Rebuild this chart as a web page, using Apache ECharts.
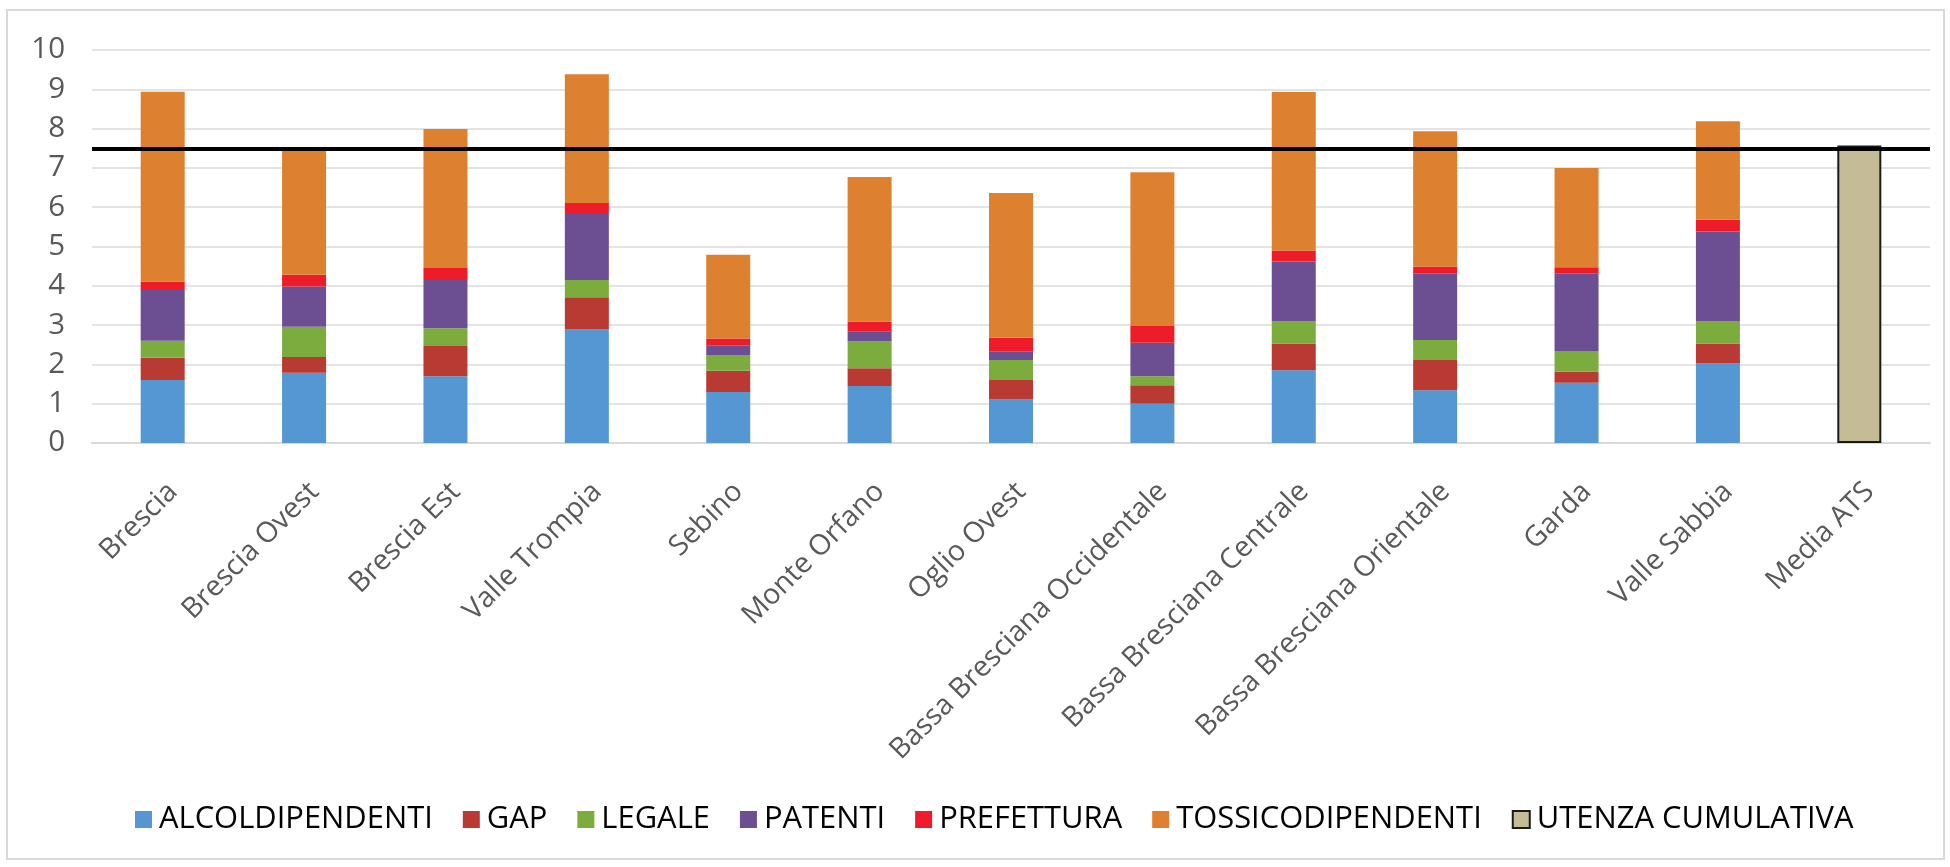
<!DOCTYPE html>
<html>
<head>
<meta charset="utf-8">
<script src="https://cdn.jsdelivr.net/npm/echarts@6/dist/echarts.min.js"></script>
<style>
html,body{margin:0;padding:0;background:#fff;}
#chart{width:1950px;height:867px;}
</style>
</head>
<body>
<div id="chart"></div>
<script>
const categories = ['Brescia','Brescia Ovest','Brescia Est','Valle Trompia','Sebino','Monte Orfano','Oglio Ovest','Bassa Bresciana Occidentale','Bassa Bresciana Centrale','Bassa Bresciana Orientale','Garda','Valle Sabbia','Media ATS'];
const alcoldipendenti = [1.60,1.79,1.70,2.89,1.30,1.45,1.11,1.00,1.85,1.34,1.53,2.02,null];
const gap = [0.57,0.40,0.77,0.82,0.54,0.45,0.49,0.47,0.68,0.77,0.28,0.51,null];
const legale = [0.43,0.77,0.45,0.44,0.40,0.68,0.51,0.23,0.56,0.51,0.53,0.56,null];
const patenti = [1.29,1.02,1.23,1.68,0.25,0.25,0.21,0.85,1.53,1.70,1.98,2.29,null];
const prefettura = [0.22,0.30,0.30,0.28,0.17,0.26,0.36,0.43,0.28,0.17,0.15,0.30,null];
const tossicodipendenti = [4.83,3.17,3.54,3.27,2.13,3.68,3.68,3.91,4.03,3.44,2.53,2.51,null];
const utenzaCumulativa = [null,null,null,null,null,null,null,null,null,null,null,null,7.57];
const mediaATS = 7.48;
const yTicks = [0,1,2,3,4,5,6,7,8,9,10];

const FONT = 'Open Sans';
const chart = echarts.init(document.getElementById('chart'), null, {renderer:'canvas'});

function barSeries(name, data, color, extra) {
  return Object.assign({
    name: name,
    type: 'bar',
    stack: 'tot',
    data: data,
    barWidth: 44,
    itemStyle: {color: color},
    emphasis: {disabled: true}
  }, extra || {});
}

const option = {
  animation: false,
  backgroundColor: '#ffffff',
  graphic: [{
    type: 'rect',
    shape: {x: 7, y: 10, width: 1937, height: 849},
    style: {fill: 'none', stroke: '#d9d9d9', lineWidth: 2},
    silent: true
  }],
  grid: {left: 92, right: 20, top: 50, bottom: 424, containLabel: false},
  legend: {
    left: 130,
    top: 799,
    itemWidth: 17,
    itemHeight: 17,
    itemGap: 30,
    icon: 'rect',
    textStyle: {fontFamily: FONT, fontSize: 30.9, color: '#000000', padding: [0,0,0,2]},
    data: ['ALCOLDIPENDENTI','GAP','LEGALE','PATENTI','PREFETTURA','TOSSICODIPENDENTI','UTENZA CUMULATIVA']
  },
  xAxis: {
    type: 'category',
    data: categories,
    axisLine: {show: true, lineStyle: {color: '#d9d9d9', width: 2}},
    axisTick: {show: false},
    axisLabel: {
      rotate: 45,
      interval: 0,
      margin: 34,
      align: 'right',
      verticalAlign: 'top',
      fontFamily: FONT,
      fontSize: 28.5,
      color: '#595959'
    }
  },
  yAxis: {
    type: 'value',
    min: yTicks[0],
    max: yTicks[yTicks.length-1],
    interval: 1,
    axisLine: {show: false},
    axisTick: {show: false},
    splitLine: {lineStyle: {color: '#e4e4e4', width: 2}},
    axisLabel: {margin: 27, fontFamily: FONT, fontSize: 29.5, color: '#595959'}
  },
  series: [
    barSeries('ALCOLDIPENDENTI', alcoldipendenti, '#5597d3'),
    barSeries('GAP', gap, '#b83a33'),
    barSeries('LEGALE', legale, '#7cab3e'),
    barSeries('PATENTI', patenti, '#6c4f93'),
    barSeries('PREFETTURA', prefettura, '#ee1c28'),
    barSeries('TOSSICODIPENDENTI', tossicodipendenti, '#dd8130'),
    barSeries('UTENZA CUMULATIVA', utenzaCumulativa, '#c4bc96', {
      itemStyle: {color: '#c4bc96', borderColor: '#1a1a1a', borderWidth: 2},
      markLine: {
        silent: true,
        symbol: ['none','none'],
        label: {show: false},
        lineStyle: {color: '#000000', width: 4, type: 'solid'},
        data: [{yAxis: mediaATS}]
      }
    })
  ]
};
chart.setOption(option);
</script>
</body>
</html>
